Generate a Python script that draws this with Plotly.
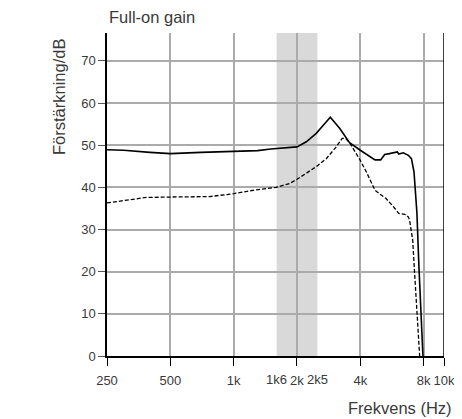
import math
import plotly.graph_objects as go

# ---- data ----
solid_freq = [250, 300, 400, 500, 700, 1000, 1300, 1500, 1800, 2000, 2215, 2470, 2700, 2880,
              3190, 3556, 4000, 4460, 4700, 5000, 5225, 5500, 5730, 6000, 6100, 6400, 6770,
              7000, 7200, 7435, 7600, 7805, 7940]
solid_gain = [48.9, 48.8, 48.3, 48.0, 48.3, 48.5, 48.7, 49.1, 49.5, 49.6, 50.8, 52.8, 55.0, 56.6,
              54.0, 50.6, 48.8, 47.2, 46.5, 46.5, 47.8, 48.0, 48.2, 48.4, 47.9, 48.2, 47.6,
              46.8, 43.7, 33.9, 21.2, 9.3, 0.0]

dashed_freq = [250, 309, 384, 500, 768, 1000, 1234, 1595, 1844, 2000, 2215, 2470, 2757, 3075,
               3280, 3405, 3556, 4000, 4270, 4700, 5050, 5290, 5730, 6100, 6500, 6770, 6860,
               7100, 7250, 7435, 7660]
dashed_gain = [36.3, 37.0, 37.6, 37.7, 37.8, 38.5, 39.3, 40.0, 40.9, 41.9, 43.4, 44.9, 46.8, 49.6,
               51.6, 51.6, 50.6, 46.4, 43.7, 39.3, 38.1, 37.4, 35.5, 33.8, 33.6, 33.0, 32.2,
               27.5, 19.6, 10.9, 0.0]

band = [1600, 2500]
x_tickvals = [250, 500, 1000, 2000, 4000, 8000, 10000]
x_ticktext = ["250", "500", "1k", "2k", "4k", "8k", "10k"]
extra_tickvals = [1600, 2500]
extra_ticktext = ["1k6", "2k5"]
y_tickvals = [0, 10, 20, 30, 40, 50, 60, 70]

TXT = "#3a3a3a"
TICKFONT = dict(family="Liberation Sans, Arial", size=13, color=TXT)
LABFONT = dict(family="Liberation Sans, Arial", size=16.5, color=TXT)

fig = go.Figure()
fig.add_trace(go.Scatter(x=dashed_freq, y=dashed_gain, mode="lines",
                         line=dict(color="black", width=1.3, dash="4px,2px"),
                         showlegend=False, hoverinfo="skip"))
fig.add_trace(go.Scatter(x=solid_freq, y=solid_gain, mode="lines",
                         line=dict(color="black", width=1.6),
                         showlegend=False, hoverinfo="skip"))

fig.add_shape(type="rect", xref="x", yref="paper", x0=band[0], x1=band[1], y0=0, y1=1,
              fillcolor="#d9d9d9", line=dict(width=0), layer="below")
fig.add_shape(type="line", xref="x", yref="paper", x0=10000, x1=10000, y0=0, y1=1,
              line=dict(color="black", width=1.5), layer="above")

for v, t in zip(extra_tickvals, extra_ticktext):
    fig.add_annotation(x=math.log10(v), xref="x", y=0, yref="paper", yshift=-23,
                       text=t, showarrow=False, font=TICKFONT, yanchor="middle")

fig.add_annotation(x=0, xref="paper", y=1, yref="paper", yshift=5, xshift=0,
                   text="Full-on gain", showarrow=False, xanchor="left", yanchor="bottom",
                   font=LABFONT)
fig.add_annotation(x=1, xref="paper", y=0, yref="paper", xshift=10, yshift=-52,
                   text="Frekvens (Hz)", showarrow=False, xanchor="right", yanchor="middle",
                   font=LABFONT)
fig.add_annotation(x=0, xref="paper", y=1, yref="paper", xshift=-48, yshift=-64,
                   text="Förstärkning/dB", showarrow=False, textangle=-90,
                   xanchor="center", yanchor="middle", font=LABFONT)

fig.update_xaxes(type="log", range=[math.log10(250), math.log10(10000)],
                 tickvals=x_tickvals, ticktext=x_ticktext, tickfont=TICKFONT, tickangle=0,
                 automargin=False, ticklabelstandoff=4,
                 showgrid=True, gridcolor="#ababab", gridwidth=1.5,
                 showline=True, linecolor="black", linewidth=1.5,
                 ticks="outside", ticklen=8, tickcolor="black", tickwidth=1.3,
                 zeroline=False)
fig.update_yaxes(range=[0, 76.6], tickvals=y_tickvals, tickfont=TICKFONT, automargin=False,
                 showgrid=True, gridcolor="#ababab", gridwidth=1.5,
                 showline=True, linecolor="black", linewidth=1.5,
                 ticks="outside", ticklen=7, tickcolor="#555", tickwidth=1.3,
                 zeroline=False)

# page body has an 8px margin, so the figure is offset by 8px in the window
fig.update_layout(width=454, height=411, margin=dict(l=99, r=18, t=25, b=63),
                  plot_bgcolor="white", paper_bgcolor="white")
fig.write_html("out.html")
